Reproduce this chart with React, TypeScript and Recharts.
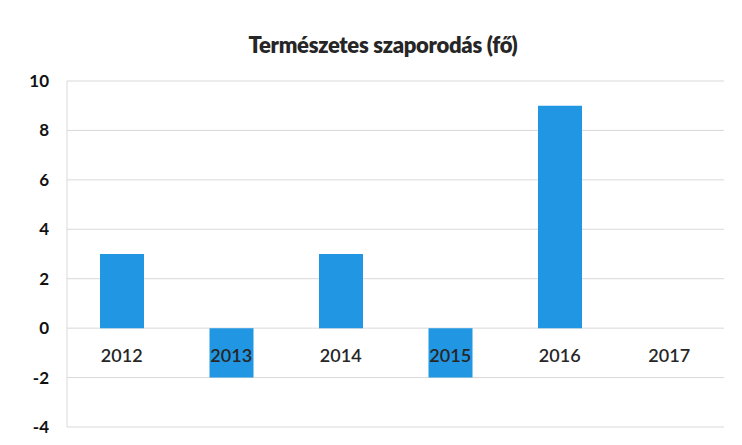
import React from "react";
import { BarChart, Bar, XAxis, YAxis, CartesianGrid } from "recharts";

const years = ["2012", "2013", "2014", "2015", "2016", "2017"];
const values = [3, -2, 3, -2, 9, 0];
const yTicks = [-4, -2, 0, 2, 4, 6, 8, 10];
const title = "Természetes szaporodás (fő)";

const data = years.map((y, i) => ({ year: y, value: values[i] }));

const W = 742;
const H = 445;
const M = { top: 81, right: 18, bottom: 17, left: 0 };
const Y_MIN = -4;
const Y_MAX = 10;
const plotH = H - M.top - M.bottom;
const zeroY = M.top + (plotH * Y_MAX) / (Y_MAX - Y_MIN);
const FONT = "Lato, 'Open Sans', sans-serif";

const XTick = (props: any) => {
  const { x, payload } = props;
  return (
    <text
      x={x}
      y={zeroY + 33}
      textAnchor="middle"
      fontFamily={FONT}
      fontSize={18}
      fontWeight={600}
      fill="#262626"
    >
      {payload.value}
    </text>
  );
};

export default function App() {
  return (
    <div style={{ position: "absolute", left: 0, top: 0, width: W, height: H, background: "#fff" }}>
      <div
        style={{
          position: "absolute",
          left: 0,
          width: W,
          top: 31,
          textAlign: "center",
          fontFamily: FONT,
          fontWeight: 800,
          fontSize: 22,
          letterSpacing: -0.3,
          color: "#262626",
          paddingLeft: 24,
          boxSizing: "border-box",
        }}
      >
        {title}
      </div>
      <BarChart width={W} height={H} data={data} margin={M} barSize={44}>
        <CartesianGrid vertical={false} stroke="#d9d9d9" />
        <XAxis
          dataKey="year"
          axisLine={false}
          tickLine={false}
          tick={<XTick />}
          height={1}
          interval={0}
        />
        <YAxis
          width={67}
          domain={[Y_MIN, Y_MAX]}
          ticks={yTicks}
          interval={0}
          axisLine={{ stroke: "#d9d9d9" }}
          tickLine={false}
          tickSize={0}
          tickMargin={18}
          tick={{ fontFamily: FONT, fontSize: 17, fontWeight: 700, fill: "#111" }}
        />
        <Bar dataKey="value" fill="#2196e3" isAnimationActive={false} />
      </BarChart>
    </div>
  );
}
